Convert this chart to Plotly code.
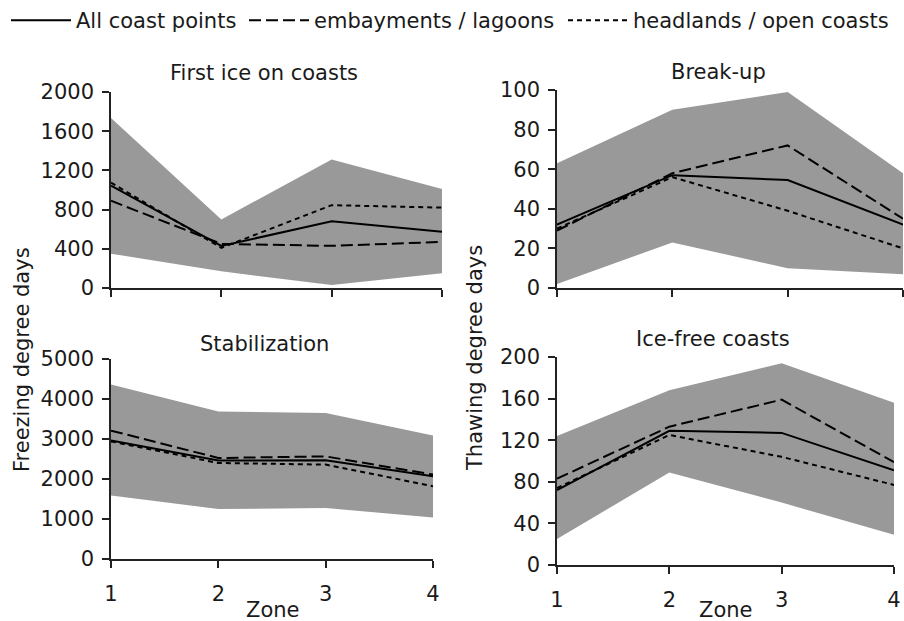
import plotly.graph_objects as go

zones = [1, 2, 3, 4]

# First ice on coasts (freezing degree days)
first_ice_all = [1045, 430, 680, 575]
first_ice_emb = [890, 450, 430, 470]
first_ice_head = [1075, 410, 845, 820]
first_ice_max = [1735, 700, 1310, 1010]
first_ice_min = [350, 170, 30, 150]

# Break-up (thawing degree days)
breakup_all = [32, 57, 54.5, 32]
breakup_emb = [29, 58, 72, 35]
breakup_head = [30, 56, 39, 20]
breakup_max = [63, 90, 99, 58]
breakup_min = [2, 23, 10, 7]

# Stabilization (freezing degree days)
stab_all = [2960, 2460, 2470, 2070]
stab_emb = [3210, 2525, 2565, 2110]
stab_head = [2940, 2400, 2360, 1820]
stab_max = [4360, 3690, 3650, 3085]
stab_min = [1585, 1250, 1275, 1040]

# Ice-free coasts (thawing degree days)
icefree_all = [72, 129, 127, 91]
icefree_emb = [83, 133, 159, 99]
icefree_head = [74, 125, 104, 77]
icefree_max = [124, 168, 194, 156]
icefree_min = [25, 89, 60, 29]

series_names = ['All coast points', 'embayments / lagoons', 'headlands / open coasts']
dashes = ['solid', '12px,5px', '5px,4px']
legends = ['legend', 'legend2', 'legend3']

panels = [
    ('x', 'y', first_ice_min, first_ice_max, [first_ice_all, first_ice_emb, first_ice_head]),
    ('x2', 'y2', breakup_min, breakup_max, [breakup_all, breakup_emb, breakup_head]),
    ('x3', 'y3', stab_min, stab_max, [stab_all, stab_emb, stab_head]),
    ('x4', 'y4', icefree_min, icefree_max, [icefree_all, icefree_emb, icefree_head]),
]

FONT = 'DejaVu Sans, Verdana, sans-serif'
TXT = '#1a1a1a'
FS = 21

data = []
for k, (xa, ya, lo, hi, lines) in enumerate(panels):
    data.append(go.Scatter(x=zones, y=lo, xaxis=xa, yaxis=ya, mode='lines',
                           line=dict(width=0, color='#999999'),
                           showlegend=False, hoverinfo='skip'))
    data.append(go.Scatter(x=zones, y=hi, xaxis=xa, yaxis=ya, mode='lines',
                           line=dict(width=0, color='#999999'),
                           fill='tonexty', fillcolor='#999999',
                           showlegend=False, hoverinfo='skip'))
    for name, vals, dash, lg in zip(series_names, lines, dashes, legends):
        data.append(go.Scatter(x=zones, y=vals, xaxis=xa, yaxis=ya, mode='lines',
                               name=name, line=dict(color='black', width=2, dash=dash),
                               legend=lg, showlegend=(k == 0)))


def xaxis(domain, anchor, labels):
    return dict(domain=domain, anchor=anchor, range=[1, 4], tickvals=zones,
                showticklabels=labels, ticks='outside', ticklen=7, tickwidth=1.5,
                tickcolor='#222', showline=True, linecolor='#222', linewidth=1.5,
                showgrid=False, zeroline=False, ticklabelstandoff=8, automargin=False,
                tickfont=dict(size=FS, color=TXT, family=FONT))


def yaxis(domain, anchor, rng, dtick):
    return dict(domain=domain, anchor=anchor, range=rng, dtick=dtick,
                ticks='outside', ticklen=7, tickwidth=1.5, tickcolor='#222',
                showline=True, linecolor='#222', linewidth=1.5, automargin=False,
                showgrid=False, zeroline=False, ticklabelstandoff=4,
                tickfont=dict(size=FS, color=TXT, family=FONT))


W, H = 904, 621


def px(v):
    return v / W


def py(v):
    return 1 - v / H


def legend_at(x0):
    # one legend box per entry so the gaps between entries can follow the original
    return dict(orientation='h', x=px(x0), y=1, xanchor='left', yanchor='top',
                itemwidth=60, font=dict(size=FS, color=TXT, family=FONT),
                bgcolor='rgba(0,0,0,0)')


titles = [
    ('First ice on coasts', 264, 73),
    ('Break-up', 718, 72),
    ('Stabilization', 264, 344),
    ('Ice-free coasts', 713, 339),
]
annotations = [dict(text=t, x=px(xc), y=py(yc)) for t, xc, yc in titles]
annotations += [
    dict(text='Freezing degree days', x=px(22), y=py(360), textangle=-90),
    dict(text='Thawing degree days', x=px(475), y=py(358), textangle=-90),
    dict(text='Zone', x=px(272), y=py(610)),
    dict(text='Zone', x=px(725), y=py(610)),
]
for a in annotations:
    a.update(xref='paper', yref='paper', showarrow=False, xanchor='center',
             yanchor='middle', font=dict(size=FS, color=TXT, family=FONT))

layout = go.Layout(
    width=W, height=H,
    margin=dict(l=0, r=0, t=0, b=0),
    paper_bgcolor='white', plot_bgcolor='white',
    font=dict(family=FONT, size=FS, color=TXT),
    xaxis=xaxis([px(111), px(442)], 'y', False),
    xaxis2=xaxis([px(557), px(903)], 'y2', False),
    xaxis3=xaxis([px(111), px(433)], 'y3', True),
    xaxis4=xaxis([px(557), px(894)], 'y4', True),
    yaxis=yaxis([py(288), py(92)], 'x', [0, 2000], 400),
    yaxis2=yaxis([py(288), py(90)], 'x2', [0, 100], 20),
    yaxis3=yaxis([py(559), py(359)], 'x3', [0, 5000], 1000),
    yaxis4=yaxis([py(565), py(357)], 'x4', [0, 200], 40),
    legend=legend_at(6),
    legend2=legend_at(244),
    legend3=legend_at(563),
    annotations=annotations,
    showlegend=True,
)

fig = go.Figure(data=data, layout=layout)
# drop the default page margin so the figure sits at the window's top-left corner
fig.write_html('out.html', config={'displayModeBar': False},
               post_script="document.body.style.margin='0';")
